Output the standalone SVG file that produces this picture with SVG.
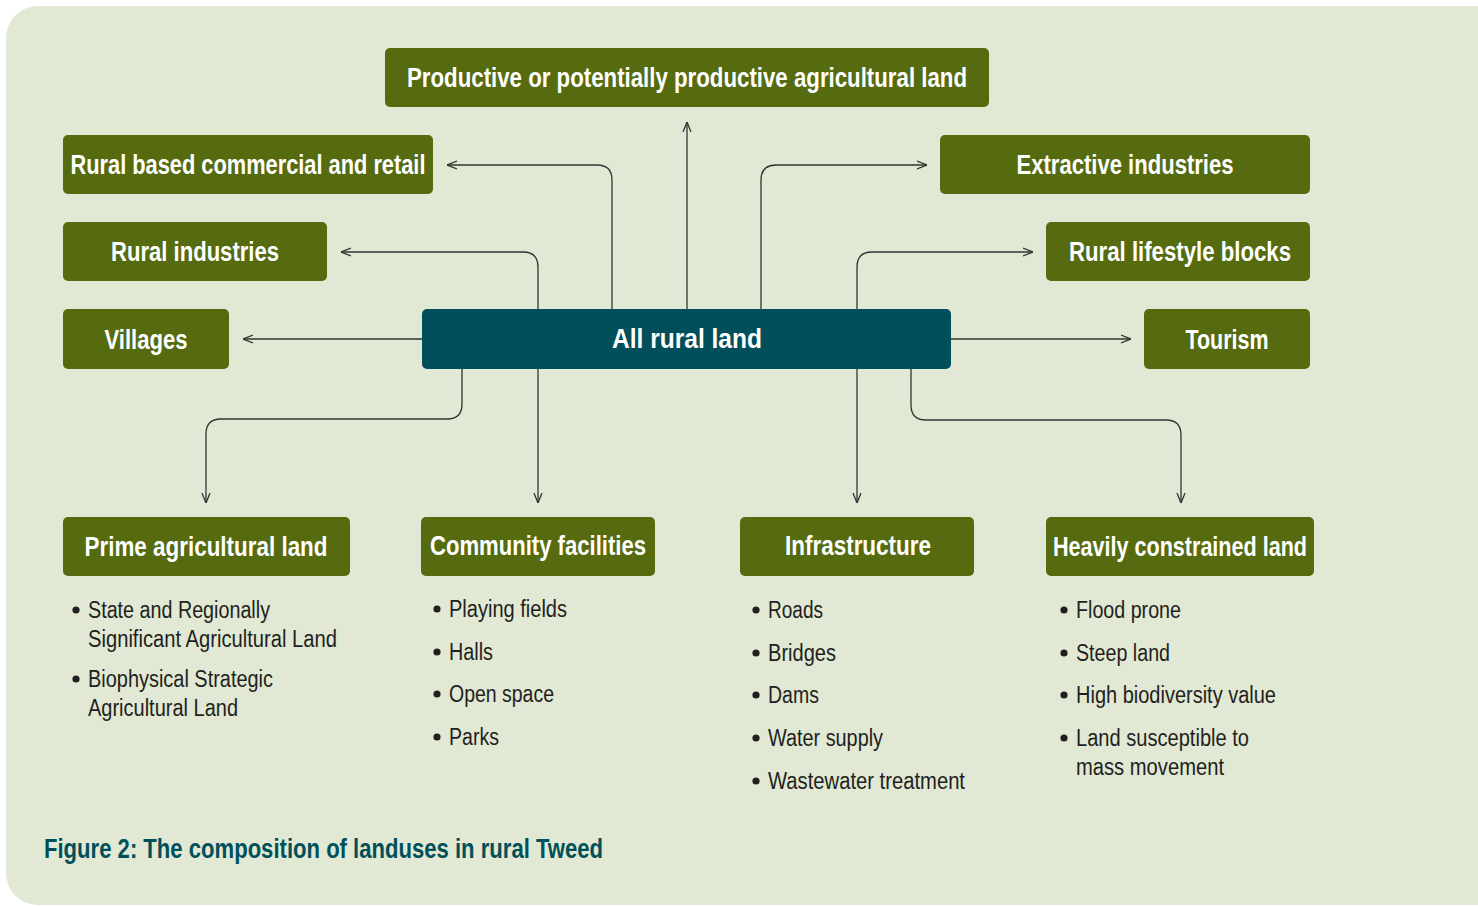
<svg xmlns="http://www.w3.org/2000/svg" width="1478" height="906" viewBox="0 0 1478 906">
<style>
.g{fill:#566b10}
.t{fill:#004f5a}
.lab{font-family:"Liberation Sans",Arial,sans-serif;font-weight:bold;font-size:27px;fill:#ffffff;text-anchor:middle}
.li{font-family:"Liberation Sans",Arial,sans-serif;font-size:23px;fill:#231f20}
.bu{fill:#231f20}
.cap{font-family:"Liberation Sans",Arial,sans-serif;font-weight:bold;font-size:27px;fill:#00505a}
.c{fill:none;stroke:#333333;stroke-width:1.3}
</style>
<defs>
<marker id="ah" viewBox="0 0 10 10" refX="10" refY="5" markerWidth="10" markerHeight="10" markerUnits="userSpaceOnUse" orient="auto">
<path d="M0,1 L10,5 L0,9" fill="none" stroke="#333333" stroke-width="1.3"/>
</marker>
</defs>
<rect x="0" y="0" width="1478" height="906" fill="#ffffff"/>
<rect x="6" y="6" width="1520" height="899" rx="32" ry="32" fill="#e1e8d3"/>

<g id="connectors">
<path class="c" d="M422,339 H243" marker-end="url(#ah)"/>
<path class="c" d="M687,309 V122" marker-end="url(#ah)"/>
<path class="c" d="M612,309 V180 Q612,165 597,165 H447" marker-end="url(#ah)"/>
<path class="c" d="M538,309 V267 Q538,252 523,252 H341" marker-end="url(#ah)"/>
<path class="c" d="M761,309 V180 Q761,165 776,165 H927" marker-end="url(#ah)"/>
<path class="c" d="M857,309 V267 Q857,252 872,252 H1033" marker-end="url(#ah)"/>
<path class="c" d="M951,339 H1131" marker-end="url(#ah)"/>
<path class="c" d="M462,369 V404 Q462,419 447,419 H221 Q206,419 206,434 V503" marker-end="url(#ah)"/>
<path class="c" d="M538,369 V503" marker-end="url(#ah)"/>
<path class="c" d="M857,369 V503" marker-end="url(#ah)"/>
<path class="c" d="M911,369 V405 Q911,420 926,420 H1166 Q1181,420 1181,435 V503" marker-end="url(#ah)"/>
</g>

<g id="n-productive"><rect class="g" x="385" y="48" width="604" height="59" rx="5"/><text class="lab" x="687" y="87" textLength="560" lengthAdjust="spacingAndGlyphs">Productive or potentially productive agricultural land</text></g>
<g id="n-commercial"><rect class="g" x="63" y="135" width="370" height="59" rx="5"/><text class="lab" x="248" y="174" textLength="355" lengthAdjust="spacingAndGlyphs">Rural based commercial and retail</text></g>
<g id="n-industries"><rect class="g" x="63" y="222" width="264" height="59" rx="5"/><text class="lab" x="195" y="261" textLength="168" lengthAdjust="spacingAndGlyphs">Rural industries</text></g>
<g id="n-villages"><rect class="g" x="63" y="309" width="166" height="60" rx="5"/><text class="lab" x="146" y="349" textLength="83" lengthAdjust="spacingAndGlyphs">Villages</text></g>
<g id="n-all"><rect class="t" x="422" y="309" width="529" height="60" rx="5"/><text class="lab" x="687" y="348" textLength="150" lengthAdjust="spacingAndGlyphs">All rural land</text></g>
<g id="n-extractive"><rect class="g" x="940" y="135" width="370" height="59" rx="5"/><text class="lab" x="1125" y="174" textLength="217" lengthAdjust="spacingAndGlyphs">Extractive industries</text></g>
<g id="n-lifestyle"><rect class="g" x="1046" y="222" width="264" height="59" rx="5"/><text class="lab" x="1180" y="261" textLength="222" lengthAdjust="spacingAndGlyphs">Rural lifestyle blocks</text></g>
<g id="n-tourism"><rect class="g" x="1144" y="309" width="166" height="60" rx="5"/><text class="lab" x="1227" y="349" textLength="83" lengthAdjust="spacingAndGlyphs">Tourism</text></g>
<g id="n-prime"><rect class="g" x="63" y="517" width="287" height="59" rx="5"/><text class="lab" x="206" y="556" textLength="243" lengthAdjust="spacingAndGlyphs">Prime agricultural land</text></g>
<g id="n-community"><rect class="g" x="421" y="517" width="234" height="59" rx="5"/><text class="lab" x="538" y="555" textLength="216" lengthAdjust="spacingAndGlyphs">Community facilities</text></g>
<g id="n-infrastructure"><rect class="g" x="740" y="517" width="234" height="59" rx="5"/><text class="lab" x="858" y="555" textLength="146" lengthAdjust="spacingAndGlyphs">Infrastructure</text></g>
<g id="n-heavily"><rect class="g" x="1046" y="517" width="268" height="59" rx="5"/><text class="lab" x="1180" y="556" textLength="254" lengthAdjust="spacingAndGlyphs">Heavily constrained land</text></g>

<g id="list-prime">
<circle class="bu" cx="76" cy="610" r="3.6"/>
<text class="li" x="88" y="618" textLength="182" lengthAdjust="spacingAndGlyphs">State and Regionally</text>
<text class="li" x="88" y="647" textLength="249" lengthAdjust="spacingAndGlyphs">Significant Agricultural Land</text>
<circle class="bu" cx="76" cy="679" r="3.6"/>
<text class="li" x="88" y="687" textLength="185" lengthAdjust="spacingAndGlyphs">Biophysical Strategic</text>
<text class="li" x="88" y="716" textLength="150" lengthAdjust="spacingAndGlyphs">Agricultural Land</text>
</g>
<g id="list-community">
<circle class="bu" cx="437" cy="609" r="3.6"/>
<text class="li" x="449" y="617" textLength="118" lengthAdjust="spacingAndGlyphs">Playing fields</text>
<circle class="bu" cx="437" cy="652" r="3.6"/>
<text class="li" x="449" y="660" textLength="44" lengthAdjust="spacingAndGlyphs">Halls</text>
<circle class="bu" cx="437" cy="694" r="3.6"/>
<text class="li" x="449" y="702" textLength="105" lengthAdjust="spacingAndGlyphs">Open space</text>
<circle class="bu" cx="437" cy="737" r="3.6"/>
<text class="li" x="449" y="745" textLength="50" lengthAdjust="spacingAndGlyphs">Parks</text>
</g>
<g id="list-infrastructure">
<circle class="bu" cx="756" cy="610" r="3.6"/>
<text class="li" x="768" y="618" textLength="55" lengthAdjust="spacingAndGlyphs">Roads</text>
<circle class="bu" cx="756" cy="653" r="3.6"/>
<text class="li" x="768" y="661" textLength="68" lengthAdjust="spacingAndGlyphs">Bridges</text>
<circle class="bu" cx="756" cy="695" r="3.6"/>
<text class="li" x="768" y="703" textLength="51" lengthAdjust="spacingAndGlyphs">Dams</text>
<circle class="bu" cx="756" cy="738" r="3.6"/>
<text class="li" x="768" y="746" textLength="115" lengthAdjust="spacingAndGlyphs">Water supply</text>
<circle class="bu" cx="756" cy="781" r="3.6"/>
<text class="li" x="768" y="789" textLength="197" lengthAdjust="spacingAndGlyphs">Wastewater treatment</text>
</g>
<g id="list-heavily">
<circle class="bu" cx="1064" cy="610" r="3.6"/>
<text class="li" x="1076" y="618" textLength="105" lengthAdjust="spacingAndGlyphs">Flood prone</text>
<circle class="bu" cx="1064" cy="653" r="3.6"/>
<text class="li" x="1076" y="661" textLength="94" lengthAdjust="spacingAndGlyphs">Steep land</text>
<circle class="bu" cx="1064" cy="695" r="3.6"/>
<text class="li" x="1076" y="703" textLength="200" lengthAdjust="spacingAndGlyphs">High biodiversity value</text>
<circle class="bu" cx="1064" cy="738" r="3.6"/>
<text class="li" x="1076" y="746" textLength="173" lengthAdjust="spacingAndGlyphs">Land susceptible to</text>
<text class="li" x="1076" y="775" textLength="148" lengthAdjust="spacingAndGlyphs">mass movement</text>
</g>

<text id="caption" class="cap" x="44" y="858" textLength="559" lengthAdjust="spacingAndGlyphs">Figure 2: The composition of landuses in rural Tweed</text>
</svg>
